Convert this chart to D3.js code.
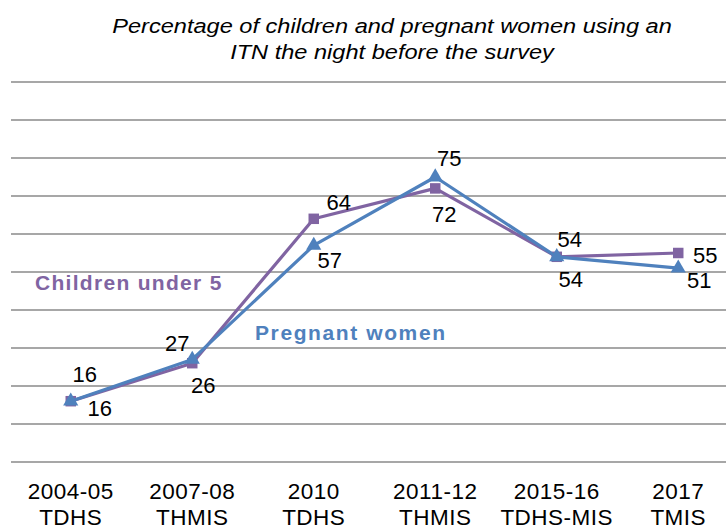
<!DOCTYPE html>
<html>
<head>
<meta charset="utf-8">
<script src="https://cdn.jsdelivr.net/npm/d3@7"></script>
<style>
  body { margin: 0; background: #fff; }
  svg { display: block; font-family: "Liberation Sans", Arial, sans-serif; }
</style>
</head>
<body>
<svg id="chart" width="726" height="529"></svg>
<script>
// Survey rounds (two-line category labels)
const surveyYears = ["2004-05", "2007-08", "2010", "2011-12", "2015-16", "2017"];
const surveyNames = ["TDHS", "THMIS", "TDHS", "THMIS", "TDHS-MIS", "TMIS"];

// Percent using an ITN the night before the survey
const childrenUnder5 = [16, 26, 64, 72, 54, 55];
const pregnantWomen = [16, 27, 57, 75, 54, 51];

const yTicks = d3.range(0, 101, 10);

// Data label placement relative to each marker [dx, dy]
const childLabelPos = [[14, -19], [11, 30], [25, -9], [9, 34], [13, -10], [27, 10]];
const womenLabelPos = [[29, 15], [-15, -8], [16, 23], [14, -11], [14, 30], [21, 20]];

const svg = d3.select("#chart");

const x = d3.scalePoint()
  .domain(surveyYears)
  .range([10, 739])
  .padding(0.5);

const y = d3.scaleLinear()
  .domain([0, 100])
  .range([462, 82]);

// Title (slightly stretched horizontally, like the original)
const title = svg.append("text")
  .attr("transform", "translate(392,0) scale(1.21,1)")
  .attr("text-anchor", "middle")
  .style("font-size", "19.5px")
  .style("font-style", "italic")
  .attr("fill", "#000");
title.append("tspan").attr("x", 0).attr("y", 33)
  .text("Percentage of children and pregnant women using an");
title.append("tspan").attr("x", 0).attr("y", 59)
  .text("ITN the night before the survey");

// Gridlines
svg.append("g")
  .selectAll("line")
  .data(yTicks)
  .enter()
  .append("line")
  .attr("x1", 11)
  .attr("x2", 726)
  .attr("y1", d => y(d))
  .attr("y2", d => y(d))
  .attr("stroke", "#8a8a8a")
  .attr("stroke-width", 1.3);

// Category labels
const xLabels = svg.append("g")
  .selectAll("text")
  .data(surveyYears)
  .enter()
  .append("text")
  .attr("text-anchor", "middle")
  .style("font-size", "22.5px")
  .style("letter-spacing", "0.5px")
  .attr("fill", "#000");
xLabels.append("tspan")
  .attr("x", d => x(d))
  .attr("y", 499)
  .text(d => d);
xLabels.append("tspan")
  .attr("x", d => x(d))
  .attr("y", 525)
  .text((d, i) => surveyNames[i]);

const line = d3.line()
  .x((d, i) => x(surveyYears[i]))
  .y(d => y(d));

function drawSeries(values, color, symbolType, size) {
  const g = svg.append("g");

  g.append("path")
    .datum(values)
    .attr("d", line)
    .attr("fill", "none")
    .attr("stroke", color)
    .attr("stroke-width", 3.2)
    .attr("stroke-linejoin", "round");

  g.selectAll("path.marker")
    .data(values)
    .enter()
    .append("path")
    .attr("class", "marker")
    .attr("d", d3.symbol().type(symbolType).size(size))
    .attr("transform", (d, i) => `translate(${x(surveyYears[i])},${y(d)})`)
    .attr("fill", color);

  return g;
}

function drawLabels(values, labelPos) {
  svg.append("g")
    .selectAll("text")
    .data(values)
    .enter()
    .append("text")
    .attr("x", (d, i) => x(surveyYears[i]) + labelPos[i][0])
    .attr("y", (d, i) => y(d) + labelPos[i][1])
    .attr("text-anchor", "middle")
    .style("font-size", "22px")
    .attr("fill", "#000")
    .text(d => d);
}

drawSeries(childrenUnder5, "#8064a2", d3.symbolSquare, 110);
drawSeries(pregnantWomen, "#4f81bd", d3.symbolTriangle, 100);
drawLabels(childrenUnder5, childLabelPos);
drawLabels(pregnantWomen, womenLabelPos);

// Series names
svg.append("text")
  .attr("x", 35)
  .attr("y", 290)
  .style("font-size", "21px")
  .style("font-weight", "bold")
  .style("letter-spacing", "1.3px")
  .attr("fill", "#8064a2")
  .text("Children under 5");

svg.append("text")
  .attr("x", 255)
  .attr("y", 340)
  .style("font-size", "21px")
  .style("font-weight", "bold")
  .style("letter-spacing", "1.6px")
  .attr("fill", "#4f81bd")
  .text("Pregnant women");
</script>
</body>
</html>
